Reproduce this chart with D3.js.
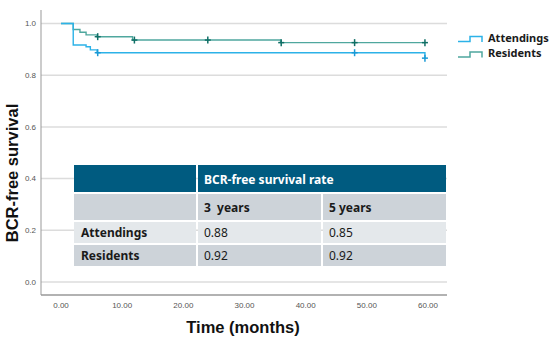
<!DOCTYPE html>
<html lang="en">
<head>
    <meta charset="UTF-8">
    <title>BCR-free survival</title>
    <script src="https://d3js.org/d3.v7.min.js"></script>
    <style>
        body { margin: 0; background: #fff; }
        svg { display: block; }
        .tick-label { font-family: "Liberation Sans", Arial, sans-serif; font-size: 8px; fill: #555; }
        .axis-title { font-family: "Liberation Sans", Arial, sans-serif; font-weight: bold; fill: #111; }
        .tbl { font-family: "Noto Sans", sans-serif; font-size: 12px; fill: #1a1a1a; white-space: pre; }
        .legend { font-family: "Noto Sans", sans-serif; font-size: 11px; font-weight: bold; fill: #1a1a1a; }
    </style>
</head>
<body>
<script>
    // --- data ---
    const yTicks = [0, 0.2, 0.4, 0.6, 0.8, 1.0];
    const xTicks = [0, 10, 20, 30, 40, 50, 60];

    const attTimes = [0, 2, 4.1, 4.8, 5.9, 59.5];
    const attSurv = [1, 0.917, 0.91, 0.898, 0.887, 0.866];
    const attEnd = 59.5;
    const attCensor = [6, 48, 59.5];

    const resTimes = [0, 2, 3.1, 4.1, 5.9, 11.7, 35.9];
    const resSurv = [1, 0.977, 0.966, 0.956, 0.949, 0.936, 0.926];
    const resEnd = 59.5;
    const resCensor = [6, 12, 24, 36, 48, 59.5];

    const groups = ["Attendings", "Residents"];
    const tableCols = ["3  years", "5 years"];
    const rate3y = [0.88, 0.92];
    const rate5y = [0.85, 0.92];

    const W = 550, H = 344;
    const svg = d3.select("body").append("svg").attr("width", W).attr("height", H);

    const x = d3.scaleLinear().domain([0, 60]).range([61, 428]);
    const y = d3.scaleLinear().domain([0, 1]).range([282, 23.5]);

    // gridlines
    svg.append("g").selectAll("line").data(yTicks).enter().append("line")
        .attr("x1", 41).attr("x2", 447)
        .attr("y1", d => y(d)).attr("y2", d => y(d))
        .attr("stroke", "#dcdcdc").attr("stroke-width", 1.5);

    // frame
    svg.append("line").attr("x1", 41).attr("x2", 41).attr("y1", 10).attr("y2", 295)
        .attr("stroke", "#999").attr("stroke-width", 1);
    svg.append("line").attr("x1", 41).attr("x2", 447).attr("y1", 295).attr("y2", 295)
        .attr("stroke", "#999").attr("stroke-width", 1.5);

    // tick labels
    svg.append("g").selectAll("text").data(yTicks).enter().append("text")
        .attr("class", "tick-label")
        .attr("x", 36).attr("y", d => y(d)).attr("dy", "0.35em")
        .attr("text-anchor", "end")
        .text(d => d.toFixed(1));
    svg.append("g").selectAll("text").data(xTicks).enter().append("text")
        .attr("class", "tick-label")
        .attr("x", d => x(d)).attr("y", 308)
        .attr("text-anchor", "middle")
        .text(d => d.toFixed(2));

    // axis titles
    svg.append("text").attr("class", "axis-title")
        .attr("x", 243).attr("y", 333).attr("text-anchor", "middle")
        .style("font-size", "16.5px").text("Time (months)");
    svg.append("text").attr("class", "axis-title")
        .attr("transform", "translate(18,173) rotate(-90)")
        .attr("text-anchor", "middle")
        .style("font-size", "16.5px").text("BCR-free survival");

    // survival step curves
    function stepPath(times, surv, end) {
        const pts = times.map((t, i) => [t, surv[i]]);
        pts.push([end, surv[surv.length - 1]]);
        return d3.line().x(d => x(d[0])).y(d => y(d[1])).curve(d3.curveStepAfter)(pts);
    }
    function survAt(times, surv, t) {
        let s = surv[0];
        times.forEach((tt, i) => { if (tt <= t) s = surv[i]; });
        return s;
    }

    const series = [
        { times: resTimes, surv: resSurv, end: resEnd, censor: resCensor, line: "#4fa79e", mark: "#106f66" },
        { times: attTimes, surv: attSurv, end: attEnd, censor: attCensor, line: "#2cb2e8", mark: "#1a9ad6" }
    ];

    series.forEach(s => {
        svg.append("path").attr("d", stepPath(s.times, s.surv, s.end))
            .attr("fill", "none").attr("stroke", s.line).attr("stroke-width", 1.4);
        const g = svg.append("g");
        s.censor.forEach(t => {
            const cx = x(t), cy = y(survAt(s.times, s.surv, t));
            g.append("line").attr("x1", cx - 3).attr("x2", cx + 3).attr("y1", cy).attr("y2", cy)
                .attr("stroke", s.mark).attr("stroke-width", 1.5);
            g.append("line").attr("x1", cx).attr("x2", cx).attr("y1", cy - 3.5).attr("y2", cy + 3.5)
                .attr("stroke", s.mark).attr("stroke-width", 1.5);
        });
    });

    // legend
    const legColors = ["#2cb2e8", "#4fa79e"];
    groups.forEach((g, i) => {
        const ly = 41.5 + i * 15.5;
        svg.append("path")
            .attr("d", `M458,${ly} H470 V${ly - 5} H482 V${ly + 0.5}`)
            .attr("fill", "none").attr("stroke", legColors[i]).attr("stroke-width", 1.5);
        svg.append("text").attr("class", "legend")
            .attr("x", 488).attr("y", ly - 3.5).attr("dy", "0.35em").text(g);
    });

    // table
    const colX = [74, 197, 322, 446];
    const rowY = [165, 193, 221, 244, 267];
    const rowFill = ["#005b80", "#cdd3d9", "#e4e8eb", "#cdd3d9"];
    const tg = svg.append("g");
    for (let r = 0; r < 4; r++) {
        for (let c = 0; c < 3; c++) {
            if (r === 0 && c === 2) continue;
            const x0 = colX[c] + (c > 0 ? 1 : 0);
            const x1 = (r === 0 && c === 1) ? colX[3] : colX[c + 1] - (c < 2 ? 1 : 0);
            tg.append("rect")
                .attr("x", x0).attr("y", rowY[r] + (r > 0 ? 1 : 0))
                .attr("width", x1 - x0).attr("height", rowY[r + 1] - rowY[r] - (r > 0 ? 2 : 1))
                .attr("fill", rowFill[r]);
        }
    }
    const rowMid = r => (rowY[r] + rowY[r + 1]) / 2 + 0.5;
    tg.append("text").attr("class", "tbl").attr("x", 204).attr("y", rowMid(0)).attr("dy", "0.35em")
        .style("fill", "#fff").style("font-weight", "bold").text("BCR-free survival rate");
    tableCols.forEach((t, i) => {
        tg.append("text").attr("class", "tbl").attr("x", colX[i + 1] + 7).attr("y", rowMid(1)).attr("dy", "0.35em")
            .style("font-weight", "bold").text(t);
    });
    groups.forEach((g, i) => {
        const ry = rowMid(i + 2);
        tg.append("text").attr("class", "tbl").attr("x", 81).attr("y", ry).attr("dy", "0.35em")
            .style("font-weight", "bold").text(g);
        tg.append("text").attr("class", "tbl").attr("x", colX[1] + 7).attr("y", ry).attr("dy", "0.35em")
            .text(rate3y[i].toFixed(2));
        tg.append("text").attr("class", "tbl").attr("x", colX[2] + 7).attr("y", ry).attr("dy", "0.35em")
            .text(rate5y[i].toFixed(2));
    });
</script>
</body>
</html>
